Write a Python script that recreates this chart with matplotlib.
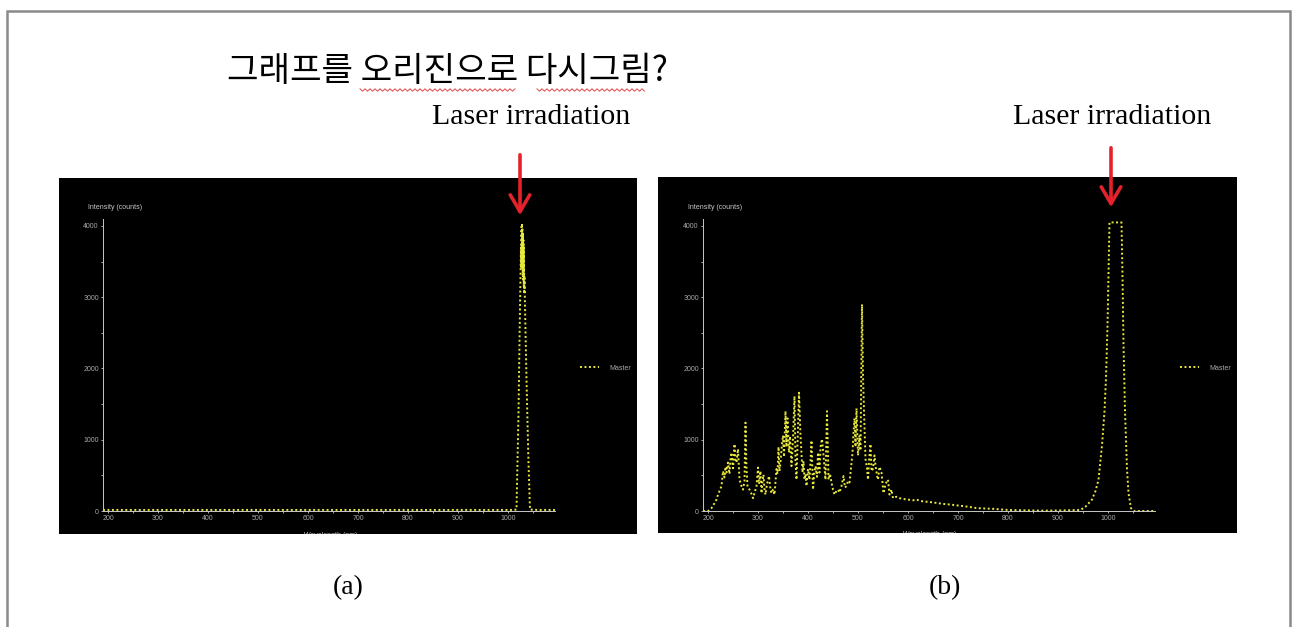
import numpy as np
import matplotlib
matplotlib.use("Agg")
import matplotlib.pyplot as plt
from matplotlib.patches import Rectangle, FancyArrowPatch
from matplotlib.ticker import MultipleLocator

# spectrum (a): laser line only
wl_a = [190, 300, 450, 600, 750, 900, 1010, 1017, 1021, 1024, 1025, 1026, 1026.5, 1027,
        1027.5, 1028, 1028.5, 1029, 1029.5, 1030, 1030.5, 1031, 1031.5, 1032, 1032.5,
        1033, 1034, 1037, 1041, 1044, 1060, 1094]
int_a = [15, 15, 15, 15, 15, 15, 15, 20, 1375, 2870, 3300, 3700, 3400, 3990,
         3500, 4040, 3450, 3950, 3300, 3900, 3250, 3800, 3150, 3700, 3050,
         3300, 2870, 1840, 670, 20, 15, 15]

# spectrum (b): plasma emission + laser line
wl_b = [190, 200, 207, 213, 217, 220, 224, 227, 230, 233, 235, 237, 240, 243, 245,
        247, 250, 253, 255, 257, 260, 263, 267, 270, 273, 275, 277, 279, 283, 287,
        290, 294, 297, 300, 302, 303, 305, 307, 309, 311, 313, 315, 318, 322, 325,
        327, 330, 333, 337, 339, 341, 343, 345, 348, 350, 352, 355, 357, 359, 362,
        364, 367, 370, 373, 375, 377, 380, 382, 385, 387, 389, 391, 393, 395, 397,
        400, 403, 405, 407, 410, 413, 415, 418, 420, 423, 425, 428, 431, 433, 435,
        438, 441, 444, 447, 450, 453, 457, 460, 463, 467, 471, 474, 477, 480, 483,
        486, 489, 491, 493, 495, 497, 500, 503, 505, 508, 510, 512, 515, 518, 520,
        522, 525, 527, 530, 533, 535, 538, 540, 543, 547, 551, 555, 560, 563, 567,
        570, 577, 583, 590, 600, 610, 617, 625, 637, 650, 670, 685, 703, 720, 738,
        755, 771, 785, 800, 830, 871, 910, 945, 955, 968, 975, 981, 988, 993, 996,
        999, 1001, 1003, 1010, 1020, 1027, 1029, 1031, 1034, 1038, 1041, 1046, 1051, 1094]
int_b = [0, 0, 40, 110, 160, 230, 300, 350, 560, 470, 620, 540, 680, 520, 740,
         820, 600, 940, 720, 680, 870, 440, 350, 300, 420, 1240, 600, 350, 300, 240,
         180, 280, 350, 610, 380, 440, 560, 250, 420, 510, 300, 230, 380, 490, 300,
         250, 300, 230, 590, 520, 900, 560, 680, 940, 1060, 760, 1400, 900, 1300, 820,
         1050, 630, 1010, 1610, 700, 440, 1200, 1660, 1060, 800, 540, 700, 440, 520, 350,
         590, 440, 700, 990, 300, 560, 630, 480, 820, 540, 900, 1010, 780, 600, 440,
         1400, 440, 520, 400, 300, 230, 280, 300, 260, 350, 490, 330, 350, 420, 400,
         600, 820, 1100, 1300, 900, 1440, 780, 1060, 850, 2900, 1900, 1400, 730, 600, 440,
         700, 940, 560, 590, 780, 640, 500, 440, 620, 540, 250, 380, 440, 230, 300,
         180, 200, 180, 170, 160, 150, 160, 140, 130, 120, 100, 90, 75, 60, 40,
         35, 30, 22, 15, 10, 5, 8, 15, 60, 160, 280, 440, 920, 1400, 1870,
         2590, 3300, 4050, 4050, 4050, 4050, 3300, 2350, 1400, 590, 250, 40, 0, 0]

x_ticks = [200, 300, 400, 500, 600, 700, 800, 900, 1000]
y_ticks = [0, 1000, 2000, 3000, 4000]

W, H = 1296, 627
LINE_COLOR = "#e8e83c"
GRAY = "#a8a8a8"


def box(l, t, r, b):
    return [l / W, 1 - b / H, (r - l) / W, (b - t) / H]


def fx(x):
    return x / W


def fy(y):
    return 1 - y / H


plt.rcParams["font.family"] = ["Liberation Sans", "DejaVu Sans"]

fig = plt.figure(figsize=(W / 100, H / 100), dpi=100)
fig.patch.set_facecolor("white")

# outer frame of the slide
fig.add_artist(Rectangle((fx(6.5), -0.05), fx(1290 - 6.5), 1.05 - 10.5 / H,
                         transform=fig.transFigure, fill=False,
                         edgecolor="#8a8a8a", lw=1.8))

panels = [
    (box(59, 178, 637, 534), box(103, 219, 555, 511), wl_a, int_a, 580, 520, 152, 218, 531),
    (box(658, 177, 1237, 533), box(703, 219, 1155, 511), wl_b, int_b, 1180, 1111, 145, 210, 1112),
]

for bg_box, ax_box, wl, inten, leg_x, arr_x, arr_top, arr_tip, txt_x in panels:
    bg = fig.add_axes(bg_box, zorder=-1)
    bg.set_facecolor("black")
    bg.set_xticks([])
    bg.set_yticks([])
    for s in bg.spines.values():
        s.set_visible(False)
    bg.set_xlim(0, 1)
    bg.set_ylim(0, 1)

    ax = fig.add_axes(ax_box)
    ax.set_facecolor("none")
    line, = ax.plot(wl, inten, color=LINE_COLOR, lw=1.4, linestyle=(0, (1, 1.3)),
                    label="Master", clip_on=False)
    ax.set_xlim(190, 1094)
    ax.set_ylim(0, 4098)
    ax.set_xticks(x_ticks)
    ax.set_yticks(y_ticks)
    ax.xaxis.set_minor_locator(MultipleLocator(50))
    ax.yaxis.set_minor_locator(MultipleLocator(500))
    for side in ["top", "right"]:
        ax.spines[side].set_visible(False)
    for side in ["left", "bottom"]:
        ax.spines[side].set_color("#c8c8c8")
        ax.spines[side].set_linewidth(0.7)
    ax.tick_params(which="both", colors="#c8c8c8", labelcolor=GRAY,
                   labelsize=5, length=1.5, width=0.6, pad=1.5)
    ax.tick_params(which="minor", length=1.2)

    # axis titles as drawn by the instrument software
    fig.text(fx(ax_box[0] * W - 15), fy(207), "Intensity (counts)", fontsize=5,
             color="#c8c8c8", ha="left", va="center")
    bg.text(0.47, -0.004, "Wavelength (nm)", transform=bg.transAxes, fontsize=5,
            color="#c8c8c8", ha="center", va="center", clip_on=True)

    ax.legend(handles=[line], loc="center left",
              bbox_to_anchor=(fx(leg_x), fy(368)), bbox_transform=fig.transFigure,
              frameon=False, fontsize=5, labelcolor=GRAY, handlelength=2.8,
              handletextpad=1.5, borderpad=0, borderaxespad=0)

    # red arrow pointing at the laser line
    fig.add_artist(FancyArrowPatch((fx(arr_x), fy(arr_top)), (fx(arr_x), fy(arr_tip)),
                                   transform=fig.transFigure,
                                   arrowstyle="->,head_length=0.55,head_width=0.32",
                                   mutation_scale=22, color="#e3222b", lw=2.6))

    fig.text(fx(txt_x), fy(117), "Laser irradiation", fontsize=21.5,
             family=["Liberation Serif", "DejaVu Serif"], ha="center", va="center")

fig.text(fx(348), fy(588), "(a)", fontsize=20, family=["Liberation Serif", "DejaVu Serif"],
         ha="center", va="center")
fig.text(fx(945), fy(588), "(b)", fontsize=20, family=["Liberation Serif", "DejaVu Serif"],
         ha="center", va="center")

fig.text(fx(227), fy(71), "그래프를 오리진으로 다시그림?", fontsize=24.7,
         family=["Noto Sans CJK KR", "DejaVu Sans"], ha="left", va="center")

# spell-check squiggles under the Korean text
for x0, x1 in [(360, 515), (537, 645)]:
    xs = np.arange(x0, x1 + 1, 2.5)
    ys = 90 + np.where(np.arange(len(xs)) % 2 == 0, -1.2, 1.2)
    fig.add_artist(plt.Line2D(xs / W, 1 - ys / H, transform=fig.transFigure,
                              color="#e04848", lw=0.7))

fig.savefig("out.png", dpi=100)
